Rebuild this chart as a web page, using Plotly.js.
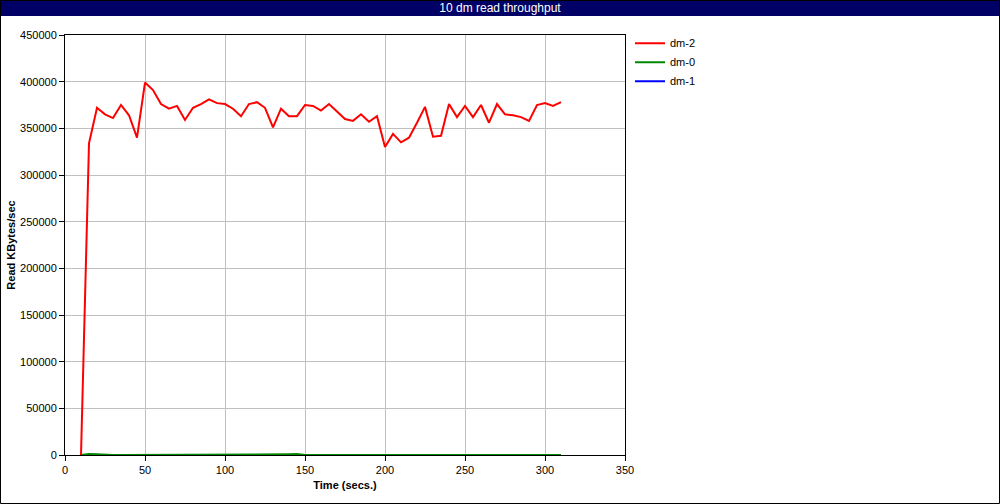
<!DOCTYPE html>
<html><head><meta charset="utf-8">
<script src="https://cdn.plot.ly/plotly-3.0.1.min.js"></script>
<style>html,body{margin:0;padding:0;background:#fff;}#chart{width:1000px;height:504px;}</style>
</head><body><div id="chart"></div>
<script>
const time = [10,15,20,25,30,35,40,45,50,55,60,65,70,75,80,85,90,95,100,105,110,115,120,125,130,135,140,145,150,155,160,165,170,175,180,185,190,195,200,205,210,215,220,225,230,235,240,245,250,255,260,265,270,275,280,285,290,295,300,305,310];
const dm2 = [0,334000,372000,365000,361000,375000,364000,340000,399000,391000,376000,371000,374000,359000,372000,376000,381000,377000,376000,371000,363000,376000,378000,372000,351000,371000,363000,363000,375000,374000,369000,376000,368000,360000,358000,365000,357000,363000,330000,344000,335000,340000,356000,373000,341000,342000,376000,362000,374000,362000,375000,356000,376000,365000,364000,362000,358000,375000,377000,374000,378000];
const dm0 = [0,1000,700,0,0,0,0,0,0,0,0,0,0,0,0,0,0,0,0,0,0,0,0,0,0,0,800,1000,0,0,0,0,0,0,0,0,0,0,0,0,0,0,0,0,0,0,0,0,0,0,0,0,0,0,0,0,0,0,0,0,0];
const dm1 = [0,0,0,0,0,0,0,0,0,0,0,0,0,0,0,0,0,0,0,0,0,0,0,0,0,0,0,0,0,0,0,0,0,0,0,0,0,0,0,0,0,0,0,0,0,0,0,0,0,0,0,0,0,0,0,0,0,0,0,0,0];
const titleText = "10 dm read throughput";
const xTitle = "Time (secs.)";
const yTitle = "Read KBytes/sec";

const L=65, R=375, T=35, B=49, W=1000, H=504;
const pw = W-L-R, ph = H-T-B;
const px = p => (p-L)/pw;
const py = p => (H-B-p)/ph;

const traces = [
  {x: time, y: dm1, name: 'dm-1', mode: 'lines', line: {color: '#0000ff', width: 2}, legendrank: 3},
  {x: time, y: dm0, name: 'dm-0', mode: 'lines', line: {color: '#008800', width: 2}, legendrank: 2},
  {x: time, y: dm2, name: 'dm-2', mode: 'lines', line: {color: '#ff0000', width: 2}, legendrank: 1}
];
const font = {family: 'Liberation Sans, Arial, sans-serif', size: 11, color: '#000'};
const layout = {
  width: W, height: H,
  margin: {l: L, r: R, t: T, b: B, pad: 0},
  paper_bgcolor: '#fff', plot_bgcolor: '#fff',
  font: font,
  showlegend: true,
  legend: {x: px(630), y: 1.015, xanchor: 'left', yanchor: 'top', bgcolor: 'rgba(0,0,0,0)',
           font: {family: 'Liberation Sans, Arial, sans-serif', size: 11}, tracegroupgap: 0, itemwidth: 30},
  title: {text: titleText, x: 0.5, xref: 'container', xanchor: 'center', y: 1 - 8/H, yref: 'container', yanchor: 'middle',
          font: {family: 'Liberation Sans, Arial, sans-serif', size: 12, color: '#fff'}},
  xaxis: {range: [0, 350], dtick: 50, tick0: 0, showgrid: true, gridcolor: '#c0c0c0', gridwidth: 1,
          showline: true, linecolor: '#000', linewidth: 1, mirror: true, ticks: 'outside', ticklen: 5, tickcolor: '#000',
          zeroline: false, fixedrange: true,
          title: {text: '<b>' + xTitle + '</b>', standoff: 6, font: {size: 11}}},
  yaxis: {range: [0, 450000], dtick: 50000, tick0: 0, showgrid: true, gridcolor: '#c0c0c0', gridwidth: 1,
          showline: true, linecolor: '#000', linewidth: 1, mirror: true, ticks: 'outside', ticklen: 5, tickcolor: '#000',
          zeroline: false, tickformat: 'd', fixedrange: true,
          title: {text: '<b>' + yTitle + '</b>', standoff: 2, font: {size: 11}}},
  shapes: [
    {type: 'rect', xref: 'paper', yref: 'paper', x0: px(0), x1: px(W), y0: py(0), y1: py(16),
     fillcolor: '#000066', line: {width: 0}, layer: 'below'},
    {type: 'rect', xref: 'paper', yref: 'paper', x0: px(0.5), x1: px(W-0.5), y0: py(0.5), y1: py(H-0.5),
     fillcolor: 'rgba(0,0,0,0)', line: {color: '#000', width: 1}}
  ]
};
Plotly.newPlot('chart', traces, layout, {staticPlot: true, displayModeBar: false});
</script></body></html>
